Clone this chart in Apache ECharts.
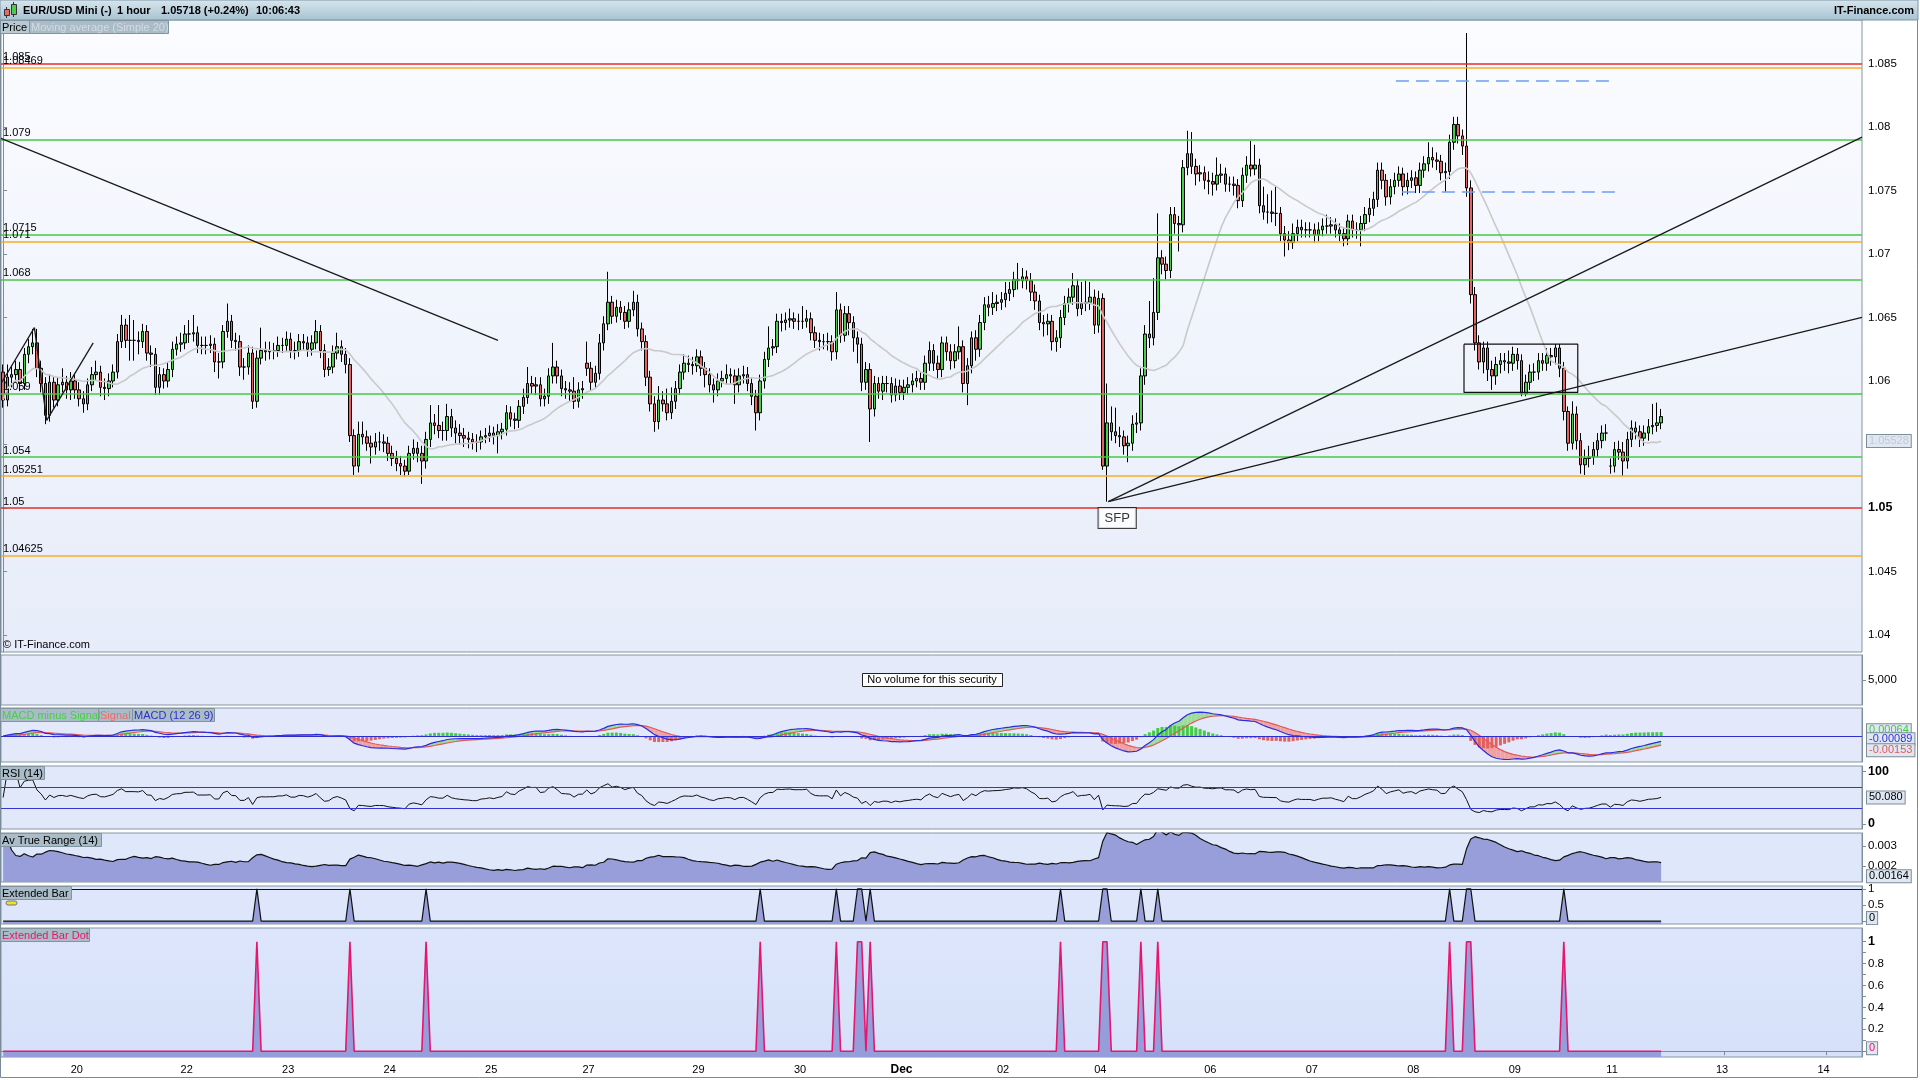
<!DOCTYPE html>
<html>
<head>
<meta charset="utf-8">
<title>EUR/USD Mini 1 hour</title>
<script src="https://cdn.jsdelivr.net/npm/echarts@6.0.0/dist/echarts.min.js"></script>
<style>
html,body{margin:0;padding:0;background:#ffffff;overflow:hidden;}
#chart{width:1920px;height:1080px;}
</style>
</head>
<body>
<div id="chart"></div>
<script>
// ---------------- values ----------------
const closes = [
1.0585,1.0603,1.0605,1.0609,1.0598,1.0621,1.0627,1.0630,1.0610,1.0598,
1.0573,1.0599,1.0585,1.0597,1.0599,1.0593,1.0600,1.0593,1.0586,1.0582,
1.0597,1.0605,1.0607,1.0595,1.0594,1.0600,1.0607,1.0631,1.0644,1.0632,
1.0632,1.0632,1.0631,1.0639,1.0622,1.0621,1.0595,1.0605,1.0600,1.0609,
1.0625,1.0629,1.0630,1.0637,1.0637,1.0638,1.0628,1.0628,1.0628,1.0629,
1.0615,1.0615,1.0639,1.0647,1.0632,1.0631,1.0611,1.0611,1.0622,1.0584,
1.0618,1.0624,1.0623,1.0624,1.0624,1.0628,1.0628,1.0633,1.0624,1.0624,
1.0631,1.0630,1.0625,1.0630,1.0639,1.0624,1.0609,1.0611,1.0622,1.0627,
1.0621,1.0613,1.0557,1.0533,1.0558,1.0556,1.0551,1.0548,1.0552,1.0552,
1.0551,1.0543,1.0539,1.0535,1.0533,1.0529,1.0543,1.0547,1.0543,1.0537,
1.0554,1.0567,1.0565,1.0561,1.0561,1.0572,1.0563,1.0559,1.0557,1.0555,
1.0554,1.0552,1.0552,1.0556,1.0557,1.0559,1.0557,1.0560,1.0562,1.0575,
1.0570,1.0569,1.0580,1.0587,1.0598,1.0596,1.0597,1.0586,1.0588,1.0604,
1.0611,1.0604,1.0594,1.0593,1.0592,1.0584,1.0593,1.0594,1.0610,1.0599,
1.0606,1.0630,1.0645,1.0662,1.0651,1.0658,1.0654,1.0647,1.0656,1.0662,
1.0641,1.0631,1.0603,1.0582,1.0568,1.0585,1.0582,1.0575,1.0584,1.0594,
1.0607,1.0614,1.0613,1.0612,1.0619,1.0610,1.0605,1.0597,1.0593,1.0600,
1.0602,1.0605,1.0604,1.0597,1.0604,1.0605,1.0598,1.0588,1.0575,1.0600,
1.0617,1.0626,1.0627,1.0647,1.0646,1.0648,1.0649,1.0647,1.0647,1.0647,
1.0649,1.0638,1.0632,1.0631,1.0631,1.0631,1.0623,1.0656,1.0636,1.0653,
1.0646,1.0634,1.0629,1.0599,1.0609,1.0578,1.0598,1.0592,1.0598,1.0598,
1.0589,1.0596,1.0591,1.0595,1.0597,1.0600,1.0602,1.0599,1.0614,1.0624,
1.0614,1.0609,1.0630,1.0623,1.0616,1.0623,1.0627,1.0598,1.0612,1.0634,
1.0625,1.0646,1.0660,1.0658,1.0661,1.0662,1.0664,1.0669,1.0672,1.0680,
1.0679,1.0682,1.0679,1.0670,1.0663,1.0646,1.0645,1.0647,1.0631,1.0634,
1.0650,1.0661,1.0666,1.0675,1.0657,1.0661,1.0662,1.0666,1.0644,1.0665,
1.0533,1.0567,1.0560,1.0557,1.0556,1.0549,1.0551,1.0566,1.0567,1.0604,
1.0637,1.0634,1.0654,1.0697,1.0692,1.0687,1.0731,1.0724,1.0723,1.0768,
1.0779,1.0769,1.0763,1.0764,1.0758,1.0757,1.0755,1.0762,1.0763,1.0755,
1.0755,1.0754,1.0742,1.0762,1.0770,1.0767,1.0770,1.0738,1.0733,1.0733,
1.0732,1.0732,1.0716,1.0711,1.0709,1.0716,1.0721,1.0719,1.0719,1.0719,
1.0715,1.0719,1.0722,1.0722,1.0723,1.0719,1.0716,1.0712,1.0726,1.0719,
1.0719,1.0724,1.0731,1.0736,1.0743,1.0766,1.0758,1.0745,1.0753,1.0758,
1.0763,1.0753,1.0758,1.0760,1.0754,1.0766,1.0771,1.0776,1.0774,1.0773,
1.0764,1.0765,1.0788,1.0802,1.0793,1.0785,1.0752,1.0668,1.0630,1.0615,
1.0626,1.0609,1.0604,1.0613,1.0616,1.0615,1.0614,1.0621,1.0616,1.0590,
1.0599,1.0607,1.0607,1.0616,1.0614,1.0620,1.0619,1.0626,1.0610,1.0576,
1.0551,1.0574,1.0553,1.0534,1.0539,1.0540,1.0546,1.0553,1.0559,1.0559,
1.0533,1.0546,1.0544,1.0537,1.0554,1.0563,1.0560,1.0555,1.0559,1.0564,
1.0565,1.0567,1.0572
];
const highs = [
1.0613,1.0613,1.0612,1.0616,1.0615,1.0626,1.0633,1.0641,1.0641,1.0616,
1.0603,1.0605,1.0604,1.0603,1.0610,1.0604,1.0607,1.0605,1.0599,1.0592,
1.0602,1.0611,1.0616,1.0612,1.0602,1.0606,1.0613,1.0637,1.0652,1.0649,
1.0652,1.0648,1.0639,1.0645,1.0644,1.0628,1.0626,1.0611,1.0610,1.0615,
1.0631,1.0635,1.0638,1.0644,1.0648,1.0652,1.0643,1.0635,1.0635,1.0636,
1.0634,1.0622,1.0644,1.0661,1.0652,1.0638,1.0636,1.0618,1.0628,1.0627,
1.0624,1.0642,1.0631,1.0631,1.0630,1.0635,1.0634,1.0639,1.0638,1.0631,
1.0637,1.0637,1.0635,1.0636,1.0648,1.0644,1.0629,1.0618,1.0628,1.0638,
1.0632,1.0626,1.0618,1.0562,1.0568,1.0568,1.0561,1.0557,1.0559,1.0560,
1.0558,1.0556,1.0549,1.0545,1.0541,1.0538,1.0549,1.0554,1.0552,1.0549,
1.0560,1.0581,1.0574,1.0581,1.0568,1.0582,1.0578,1.0569,1.0566,1.0563,
1.0560,1.0559,1.0558,1.0561,1.0563,1.0565,1.0564,1.0566,1.0567,1.0581,
1.0580,1.0575,1.0585,1.0594,1.0611,1.0604,1.0603,1.0603,1.0594,1.0610,
1.0630,1.0616,1.0609,1.0600,1.0599,1.0603,1.0599,1.0600,1.0631,1.0615,
1.0612,1.0637,1.0651,1.0686,1.0667,1.0664,1.0663,1.0659,1.0662,1.0671,
1.0668,1.0646,1.0636,1.0608,1.0588,1.0596,1.0592,1.0594,1.0595,1.0600,
1.0613,1.0621,1.0620,1.0619,1.0625,1.0624,1.0615,1.0610,1.0602,1.0606,
1.0608,1.0613,1.0610,1.0609,1.0610,1.0612,1.0611,1.0603,1.0593,1.0605,
1.0623,1.0643,1.0633,1.0653,1.0653,1.0654,1.0657,1.0654,1.0653,1.0659,
1.0656,1.0654,1.0643,1.0638,1.0637,1.0638,1.0636,1.0670,1.0661,1.0659,
1.0659,1.0651,1.0639,1.0634,1.0615,1.0614,1.0604,1.0603,1.0604,1.0604,
1.0603,1.0602,1.0601,1.0601,1.0603,1.0606,1.0608,1.0607,1.0620,1.0631,
1.0629,1.0620,1.0635,1.0635,1.0629,1.0629,1.0643,1.0632,1.0618,1.0639,
1.0640,1.0652,1.0666,1.0667,1.0670,1.0668,1.0670,1.0678,1.0678,1.0686,
1.0693,1.0689,1.0687,1.0685,1.0676,1.0668,1.0652,1.0653,1.0652,1.0640,
1.0656,1.0667,1.0673,1.0685,1.0680,1.0678,1.0679,1.0678,1.0672,1.0671,
1.0669,1.0598,1.0580,1.0579,1.0564,1.0561,1.0557,1.0573,1.0575,1.0610,
1.0644,1.0663,1.0681,1.0732,1.0703,1.0698,1.0737,1.0737,1.0730,1.0774,
1.0797,1.0796,1.0775,1.0770,1.0769,1.0765,1.0764,1.0776,1.0771,1.0768,
1.0761,1.0761,1.0759,1.0768,1.0777,1.0789,1.0786,1.0775,1.0753,1.0747,
1.0750,1.0753,1.0737,1.0722,1.0718,1.0724,1.0727,1.0727,1.0725,1.0725,
1.0724,1.0725,1.0728,1.0731,1.0729,1.0728,1.0724,1.0721,1.0731,1.0731,
1.0725,1.0730,1.0737,1.0744,1.0749,1.0772,1.0772,1.0763,1.0759,1.0764,
1.0769,1.0768,1.0764,1.0766,1.0765,1.0772,1.0777,1.0788,1.0784,1.0780,
1.0778,1.0772,1.0794,1.0808,1.0808,1.0798,1.0874,1.0758,1.0674,1.0636,
1.0631,1.0631,1.0616,1.0619,1.0622,1.0622,1.0624,1.0627,1.0626,1.0621,
1.0605,1.0613,1.0614,1.0622,1.0622,1.0626,1.0626,1.0629,1.0629,1.0615,
1.0580,1.0584,1.0580,1.0559,1.0546,1.0549,1.0552,1.0559,1.0565,1.0566,
1.0539,1.0552,1.0553,1.0552,1.0560,1.0569,1.0568,1.0565,1.0565,1.0570,
1.0582,1.0583,1.0578
];
const lows = [
1.0579,1.0580,1.0595,1.0599,1.0592,1.0593,1.0614,1.0621,1.0603,1.0591,
1.0566,1.0568,1.0579,1.0580,1.0591,1.0586,1.0585,1.0586,1.0580,1.0575,
1.0577,1.0592,1.0600,1.0588,1.0585,1.0588,1.0595,1.0602,1.0626,1.0626,
1.0616,1.0616,1.0621,1.0626,1.0616,1.0611,1.0589,1.0589,1.0594,1.0595,
1.0603,1.0620,1.0623,1.0625,1.0630,1.0631,1.0622,1.0621,1.0621,1.0622,
1.0607,1.0602,1.0610,1.0634,1.0626,1.0624,1.0604,1.0601,1.0605,1.0578,
1.0579,1.0613,1.0616,1.0617,1.0617,1.0619,1.0622,1.0623,1.0618,1.0617,
1.0619,1.0624,1.0619,1.0620,1.0625,1.0618,1.0603,1.0604,1.0606,1.0617,
1.0615,1.0606,1.0552,1.0526,1.0528,1.0550,1.0545,1.0535,1.0542,1.0545,
1.0544,1.0537,1.0533,1.0529,1.0526,1.0525,1.0526,1.0538,1.0536,1.0519,
1.0531,1.0548,1.0558,1.0555,1.0553,1.0553,1.0556,1.0551,1.0550,1.0548,
1.0547,1.0546,1.0544,1.0546,1.0551,1.0552,1.0550,1.0543,1.0554,1.0557,
1.0564,1.0562,1.0563,1.0574,1.0582,1.0590,1.0589,1.0580,1.0580,1.0582,
1.0598,1.0598,1.0588,1.0586,1.0584,1.0578,1.0579,1.0586,1.0604,1.0593,
1.0594,1.0601,1.0624,1.0640,1.0645,1.0646,1.0648,1.0641,1.0642,1.0651,
1.0635,1.0624,1.0596,1.0576,1.0560,1.0562,1.0576,1.0569,1.0570,1.0578,
1.0589,1.0601,1.0607,1.0605,1.0607,1.0604,1.0595,1.0591,1.0583,1.0588,
1.0595,1.0597,1.0597,1.0582,1.0591,1.0598,1.0592,1.0581,1.0561,1.0569,
1.0594,1.0611,1.0620,1.0622,1.0639,1.0640,1.0642,1.0641,1.0640,1.0641,
1.0642,1.0632,1.0626,1.0624,1.0625,1.0624,1.0616,1.0617,1.0630,1.0631,
1.0636,1.0623,1.0614,1.0592,1.0593,1.0552,1.0572,1.0586,1.0585,1.0591,
1.0583,1.0584,1.0585,1.0585,1.0589,1.0591,1.0595,1.0593,1.0593,1.0608,
1.0608,1.0602,1.0603,1.0616,1.0609,1.0610,1.0617,1.0591,1.0581,1.0606,
1.0616,1.0619,1.0640,1.0651,1.0652,1.0655,1.0656,1.0658,1.0663,1.0666,
1.0672,1.0673,1.0672,1.0663,1.0656,1.0640,1.0635,1.0636,1.0624,1.0623,
1.0626,1.0644,1.0654,1.0660,1.0651,1.0652,1.0655,1.0656,1.0637,1.0638,
1.0530,1.0505,1.0553,1.0551,1.0548,1.0542,1.0536,1.0545,1.0559,1.0561,
1.0597,1.0626,1.0628,1.0648,1.0684,1.0680,1.0681,1.0716,1.0702,1.0717,
1.0762,1.0763,1.0754,1.0757,1.0751,1.0747,1.0746,1.0750,1.0756,1.0749,
1.0749,1.0746,1.0736,1.0737,1.0756,1.0761,1.0762,1.0732,1.0727,1.0724,
1.0725,1.0722,1.0710,1.0698,1.0703,1.0704,1.0710,1.0713,1.0713,1.0713,
1.0709,1.0710,1.0714,1.0716,1.0716,1.0713,1.0710,1.0706,1.0707,1.0713,
1.0712,1.0706,1.0718,1.0725,1.0730,1.0737,1.0751,1.0738,1.0739,1.0747,
1.0753,1.0746,1.0747,1.0752,1.0748,1.0748,1.0760,1.0765,1.0768,1.0766,
1.0758,1.0749,1.0759,1.0782,1.0787,1.0778,1.0745,1.0661,1.0624,1.0609,
1.0606,1.0600,1.0593,1.0597,1.0606,1.0608,1.0606,1.0608,1.0609,1.0588,
1.0588,1.0593,1.0600,1.0601,1.0608,1.0608,1.0612,1.0613,1.0603,1.0569,
1.0545,1.0546,1.0546,1.0527,1.0526,1.0532,1.0534,1.0540,1.0547,1.0553,
1.0527,1.0528,1.0538,1.0525,1.0531,1.0548,1.0554,1.0548,1.0549,1.0553,
1.0558,1.0560,1.0562
];
// opens follow the previous close except where a session opened with a gap
const gapOpenBars = [0, 138, 380];
const gapOpenPrices = [1.0607, 1.0614, 1.0533];

// time axis (one slot per hourly bar, including the empty future area)
const slotCount = 440;
const dayLabels = ['20','22','23','24','25','27','29','30','Dec','02','04','06','07','08','09','11','13','14'];
const dayLabelBars = [18,44,68,92,116,139,165,189,213,237,260,286,310,334,358,381,407,431];

// horizontal price levels
const redLevels = [1.085, 1.05];
const orangeLevels = [1.08469, 1.071, 1.05251, 1.04625];
const greenLevels = [1.079, 1.0715, 1.068, 1.059, 1.054];
const priceTickValues = [1.04, 1.045, 1.05, 1.06, 1.065, 1.07, 1.075, 1.08, 1.085];

// drawn annotations (bar position, price)
const trendLineBars = [[-0.5,117],[-0.3,7.4],[7.4,10.3],[10.3,21.3],[261.3,439.5],[261.3,439.5]];
const trendLinePrices = [[1.0791,1.0632],[1.0599,1.0642],[1.0642,1.0569],[1.0569,1.0630],[1.0505,1.0792],[1.0505,1.0650]];
const boxBars = [345.4, 372.3];
const boxPrices = [1.0629, 1.0591];
const dashBars = [[329.3,380.8],[330.7,381.3]];
const dashPrices = [1.08362, 1.07488];
const sfpBar = 263.4;
const sfpPrice = 1.04921;

// "Extended Bar" signal bars
const extendedBarIdx = [60,82,100,179,197,202,203,205,250,260,261,269,273,342,346,347,369];

// last-value tags shown on the right axis
const maLastTag = 1.05528;
const macdTags = [0.00064, -0.00089, -0.00153];
const rsiTag = 50.080;
const atrTag = 0.00164;

// ---------------- build ----------------
const N = closes.length;
const opens = closes.map((c, i) => {
  const g = gapOpenBars.indexOf(i);
  return g >= 0 ? gapOpenPrices[g] : closes[i - 1];
});
const ohlc = closes.map((c, i) => [opens[i], c, lows[i], highs[i]]);
const slotLabel = Array.from({length: slotCount}, (_, i) => {
  const k = dayLabelBars.indexOf(i);
  return k >= 0 ? dayLabels[k] : '';
});
const cats = Array.from({length: slotCount}, (_, i) => String(i));

function smaCalc(arr, n) {
  const out = []; let s = 0;
  for (let i = 0; i < arr.length; i++) {
    s += arr[i]; if (i >= n) s -= arr[i - n];
    out.push(s / Math.min(i + 1, n));
  }
  return out;
}
function emaCalc(arr, n) {
  const k = 2 / (n + 1); const out = []; let e = arr[0];
  for (let i = 0; i < arr.length; i++) { e = i === 0 ? arr[0] : arr[i] * k + e * (1 - k); out.push(e); }
  return out;
}
const ma20 = smaCalc(closes, 20);
const ema12 = emaCalc(closes, 12), ema26 = emaCalc(closes, 26);
const macd = ema12.map((v, i) => v - ema26[i]);
const signal = emaCalc(macd, 9);
const hist = macd.map((v, i) => v - signal[i]);

const rsi = [];
(function () {
  let g = 0, l = 0; const n = 14;
  rsi.push(50);
  for (let i = 1; i < N; i++) {
    const d = closes[i] - closes[i - 1];
    const up = Math.max(d, 0), dn = Math.max(-d, 0);
    if (i <= n) { g = (g * (i - 1) + up) / i; l = (l * (i - 1) + dn) / i; }
    else { g = (g * (n - 1) + up) / n; l = (l * (n - 1) + dn) / n; }
    rsi.push(l === 0 ? 100 : 100 - 100 / (1 + g / l));
  }
})();
const atr = [];
(function () {
  const n = 14; let a = 0;
  for (let i = 0; i < N; i++) {
    const tr = i === 0 ? highs[i] - lows[i] :
      Math.max(highs[i] - lows[i], Math.abs(highs[i] - closes[i - 1]), Math.abs(lows[i] - closes[i - 1]));
    if (i < n) a = (a * i + tr) / (i + 1); else a = (a * (n - 1) + tr) / n;
    atr.push(a);
  }
})();
const extBar = closes.map((c, i) => extendedBarIdx.indexOf(i) >= 0 ? 1 : 0);

// ---------------- layout / style ----------------
const FF = '"Liberation Sans", Arial, sans-serif';
const AXC = '#7d8d99';
const grids = [
  {top: 20, height: 632, bg: {type:'linear',x:0,y:0,x2:0,y2:1,colorStops:[{offset:0,color:'#fbfcff'},{offset:1,color:'#e6ecf9'}]}},
  {top: 655, height: 50, bg: '#e4eafa'},
  {top: 708, height: 54, bg: '#e3e9fa'},
  {top: 766, height: 63, bg: '#e1e8fa'},
  {top: 833, height: 49, bg: '#dfe7fa'},
  {top: 886, height: 38, bg: '#dde6fa'},
  {top: 928, height: 129, bg: {type:'linear',x:0,y:0,x2:0,y2:1,colorStops:[{offset:0,color:'#dce5fb'},{offset:1,color:'#d6e1f9'}]}}
].map(g => ({left: 1, width: 1861, top: g.top, height: g.height, show: true,
  backgroundColor: g.bg, borderColor: '#8696a3', borderWidth: 1}));

const tickInterval = (idx) => slotLabel[idx] !== '';
const xAxes = grids.map((g, gi) => ({
  type: 'category', gridIndex: gi, data: cats, boundaryGap: true,
  axisLine: {show: gi === 6, lineStyle: {color: AXC}},
  axisTick: {show: gi === 6, interval: tickInterval, alignWithLabel: true, length: 4, lineStyle: {color: AXC}},
  axisLabel: {show: gi === 6, interval: tickInterval, margin: 7, fontSize: 11, fontFamily: FF, color: '#000',
    padding: [0, 5, 0, 0],
    formatter: (v, idx) => slotLabel[idx] === 'Dec' ? '{b|Dec}' : slotLabel[idx],
    rich: {b: {fontWeight: 'bold', fontSize: 12, fontFamily: FF, color: '#000'}}},
  splitLine: {show: false}
}));
xAxes.push({type: 'value', gridIndex: 0, min: -0.5, max: slotCount - 0.5, show: false});

function yAx(gi, min, max, labelVals, tickVals, fmt) {
  return {
    type: 'value', gridIndex: gi, min, max, position: 'right',
    splitLine: {show: false},
    axisLine: {show: true, lineStyle: {color: AXC}},
    axisTick: tickVals.length ? {show: true, length: 4, lineStyle: {color: AXC}, customValues: tickVals} : {show: false},
    axisLabel: labelVals.length ? {show: true, customValues: labelVals, formatter: fmt, margin: 6,
      fontSize: 11.5, fontFamily: FF, color: '#000',
      rich: {b: {fontWeight: 'bold', fontSize: 12.5, fontFamily: FF, color: '#000'}}} : {show: false}
  };
}
const yAxes = [
  yAx(0, 1.03866, 1.088425, priceTickValues, priceTickValues.concat([1.055]),
      v => Math.abs(v - 1.05) < 1e-9 ? '{b|1.05}' : String(+v.toFixed(3))),
  yAx(1, 0, 10000, [5000], [5000], () => '5,000'),
  yAx(2, -0.004333, 0.004667, [], [], null),
  yAx(3, -10, 110, [0, 100], [0, 100], v => '{b|' + v + '}'),
  yAx(4, 0.0012, 0.00365, [0.002, 0.003], [0.002, 0.003], v => String(+v.toFixed(3))),
  yAx(5, -0.09, 1.09, [0.5, 1], [0, 0.5, 1], v => String(v)),
  yAx(6, -0.053, 1.125, [0.2, 0.4, 0.6, 0.8, 1], [0, 0.1, 0.2, 0.3, 0.4, 0.5, 0.6, 0.7, 0.8, 0.9, 1],
      v => Math.abs(v - 1) < 1e-9 ? '{b|1}' : String(+v.toFixed(1)))
];

const CLEAR = 'rgba(0,0,0,0)';
function tag(value, text, color, offsetY) {
  return {yAxis: value, lineStyle: {color: CLEAR, width: 0},
    label: {show: true, position: 'end', formatter: text, color: color, fontSize: 11, fontFamily: FF,
      backgroundColor: '#dfe7f2', borderColor: '#7d8d99', borderWidth: 1, padding: [1, 2, 0, 2],
      distance: 5, offset: [0, offsetY || 0]}};
}
function level(v, color) {
  return {yAxis: v, lineStyle: {color: color, width: 1.5, type: 'solid', opacity: 1},
    label: {show: true, position: 'insideStartTop', formatter: String(v), color: '#000', fontSize: 11,
      fontFamily: FF, distance: [2, 1]}};
}
function mline(data) {
  return {silent: true, symbol: ['none', 'none'], animation: false, precision: 10, data: data};
}
const levelData = []
  .concat(orangeLevels.map(v => level(v, '#f7ae22')))
  .concat(greenLevels.map(v => level(v, '#45c845')))
  .concat(redLevels.map(v => level(v, '#e2302a')));

const series = [];
series.push({
  type: 'candlestick', xAxisIndex: 0, yAxisIndex: 0, data: ohlc, barWidth: 3,
  itemStyle: {color: '#46cf44', color0: '#e5625e', borderColor: '#000', borderColor0: '#000', borderWidth: 1},
  markLine: mline(levelData),
  z: 3
});
series.push({
  type: 'line', xAxisIndex: 0, yAxisIndex: 0, data: ma20, symbol: 'none',
  lineStyle: {color: '#c9c9c9', width: 1.6}, z: 4,
  markLine: mline([tag(maLastTag, '1.05528', '#c3cad2')])
});
trendLineBars.forEach((b, k) => {
  series.push({type: 'line', xAxisIndex: 7, yAxisIndex: 0, symbol: 'none', z: 5,
    data: [[b[0], trendLinePrices[k][0]], [b[1], trendLinePrices[k][1]]],
    lineStyle: {color: '#1a1a1a', width: 1.3}});
});
series.push({type: 'line', xAxisIndex: 7, yAxisIndex: 0, symbol: 'none', z: 5,
  data: [[boxBars[0], boxPrices[0]], [boxBars[1], boxPrices[0]], [boxBars[1], boxPrices[1]],
         [boxBars[0], boxPrices[1]], [boxBars[0], boxPrices[0]]],
  lineStyle: {color: '#111', width: 1.2}});
dashBars.forEach((b, k) => {
  series.push({type: 'line', xAxisIndex: 7, yAxisIndex: 0, symbol: 'none', z: 5,
    data: [[b[0], dashPrices[k]], [b[1], dashPrices[k]]],
    lineStyle: {color: '#6e9ff0', width: 1.3, type: [13, 7]}});
});
series.push({type: 'scatter', xAxisIndex: 7, yAxisIndex: 0, data: [[sfpBar, sfpPrice]], symbolSize: 2,
  itemStyle: {color: CLEAR}, z: 6,
  label: {show: true, position: 'inside', formatter: 'SFP', color: '#000', fontSize: 13, fontFamily: FF,
    backgroundColor: '#fff', borderColor: '#111', borderWidth: 1, padding: [4, 6, 3, 6]}});

// volume panel (empty)
series.push({type: 'line', xAxisIndex: 1, yAxisIndex: 1, data: [], symbol: 'none'});

// MACD
series.push({
  type: 'custom', xAxisIndex: 2, yAxisIndex: 2,
  data: macd.map((m, i) => [i, m, signal[i]]), encode: {x: 0, y: [1, 2]},
  renderItem: function (params, api) {
    const i = api.value(0);
    if (i >= N - 1) return null;
    const a = api.coord([i, macd[i]]), b = api.coord([i + 1, macd[i + 1]]);
    const c = api.coord([i + 1, signal[i + 1]]), d = api.coord([i, signal[i]]);
    const up = (macd[i] + macd[i + 1]) >= (signal[i] + signal[i + 1]);
    return {type: 'polygon', shape: {points: [a, b, c, d]}, style: {fill: up ? '#9edc9c' : '#f0a2a2'}};
  }, z: 2
});
series.push({type: 'bar', xAxisIndex: 2, yAxisIndex: 2, data: hist, barWidth: 3, z: 3,
  itemStyle: {color: p => p.value >= 0 ? '#42cc42' : '#e2605e'}});
series.push({type: 'line', xAxisIndex: 2, yAxisIndex: 2, data: signal, symbol: 'none', z: 4,
  lineStyle: {color: '#e05a5a', width: 1.2},
  markLine: mline([{yAxis: 0, lineStyle: {color: '#2f2fd0', width: 1.2, type: 'solid'}, label: {show: false}},
           tag(macdTags[0], '0.00064', '#3fcf3f', -2),
           tag(macdTags[1], '-0.00089', '#3434d4', -2),
           tag(macdTags[2], '-0.00153', '#e05a5a', 5)])});
series.push({type: 'line', xAxisIndex: 2, yAxisIndex: 2, data: macd, symbol: 'none', z: 5,
  lineStyle: {color: '#2b2be0', width: 1.2}});

// RSI
series.push({type: 'line', xAxisIndex: 3, yAxisIndex: 3, data: rsi, symbol: 'none',
  lineStyle: {color: '#111', width: 1},
  markLine: mline([{yAxis: 70, lineStyle: {color: '#3535d5', width: 1.2, type: 'solid'}, label: {show: false}},
           {yAxis: 30, lineStyle: {color: '#3535d5', width: 1.2, type: 'solid'}, label: {show: false}},
           tag(rsiTag, '50.080', '#000')])});

// ATR
series.push({type: 'line', xAxisIndex: 4, yAxisIndex: 4, data: atr, symbol: 'none',
  lineStyle: {color: '#111', width: 1.2}, areaStyle: {color: '#979ed9', opacity: 1, origin: 'start'},
  markLine: mline([tag(atrTag, '0.00164', '#000', 3)])});

// Extended Bar
series.push({type: 'line', xAxisIndex: 5, yAxisIndex: 5, data: extBar, symbol: 'none',
  lineStyle: {color: '#111', width: 1.2}, areaStyle: {color: '#979ed9', opacity: 1, origin: 'start'},
  markLine: mline([{yAxis: 1, lineStyle: {color: '#111', width: 1.2, type: 'solid'}, label: {show: false}},
           tag(0, '0', '#000', -3)])});

// Extended Bar Dot
series.push({type: 'line', xAxisIndex: 6, yAxisIndex: 6, data: extBar, symbol: 'none',
  lineStyle: {color: '#e8156e', width: 1.6}, areaStyle: {color: '#959dda', opacity: 1, origin: 'start'},
  markLine: mline([tag(0, '0', '#e8156e', -3)])});

// ---------------- decorations ----------------
function txt(x, y, text, opts) {
  return Object.assign({type: 'text', x: x, y: y, z: 101, silent: true,
    style: Object.assign({text: text, fill: '#000', fontSize: 11, fontFamily: FF, verticalAlign: 'middle'}, opts || {})});
}
function box(x, y, w, h, fill, stroke) {
  return {type: 'rect', z: 100, silent: true, shape: {x: x + 0.5, y: y + 0.5, width: w, height: h},
    style: {fill: fill, stroke: stroke || '#8394a1', lineWidth: 1}};
}
function tabs(y, items) {
  const out = [];
  items.forEach(it => { out.push(box(it.x, y, it.w, 13, it.bg || '#a9bcc8')); out.push(txt(it.x + 2, y + 7.5, it.t, {fill: it.c || '#000'})); });
  return out;
}
const graphic = [].concat(
  [{type: 'rect', z: 99, silent: true, shape: {x: 0, y: 0, width: 1918, height: 20},
    style: {fill: new echarts.graphic.LinearGradient(0, 0, 0, 1, [{offset: 0, color: '#d7e6ee'}, {offset: 1, color: '#a7c2d1'}]),
      stroke: '#7f95a3', lineWidth: 1}},
   {type: 'line', z: 101, silent: true, shape: {x1: 6.5, y1: 7, x2: 6.5, y2: 18}, style: {stroke: '#333'}},
   {type: 'rect', z: 102, silent: true, shape: {x: 4.5, y: 9.5, width: 5, height: 6}, style: {fill: '#e86b6b', stroke: '#333'}},
   {type: 'line', z: 101, silent: true, shape: {x1: 13.5, y1: 2, x2: 13.5, y2: 17}, style: {stroke: '#333'}},
   {type: 'rect', z: 102, silent: true, shape: {x: 11.5, y: 4.5, width: 5, height: 10}, style: {fill: '#4ccc48', stroke: '#333'}},
   txt(23, 10.5, 'EUR/USD Mini (-)', {fontWeight: 'bold'}),
   txt(117, 10.5, '1 hour', {fontWeight: 'bold'}),
   txt(161, 10.5, '1.05718 (+0.24%)', {fontWeight: 'bold'}),
   txt(256, 10.5, '10:06:43', {fontWeight: 'bold'}),
   txt(1914, 10.5, 'IT-Finance.com', {fontWeight: 'bold', align: 'right'})],
  tabs(20, [{x: 0, w: 29, t: 'Price', bg: '#b9c9d4'}, {x: 29, w: 139, t: 'Moving average (Simple 20)', c: '#d3dbe3'}]),
  tabs(708, [{x: 0, w: 98, t: 'MACD minus Signal', c: '#46d046'}, {x: 98, w: 34, t: 'Signal', c: '#f06a6a'}, {x: 132, w: 82, t: 'MACD (12 26 9)', c: '#2f2fc8'}]),
  tabs(766, [{x: 0, w: 44, t: 'RSI (14)'}]),
  tabs(833, [{x: 0, w: 101, t: 'Av True Range (14)'}]),
  tabs(886, [{x: 0, w: 71, t: 'Extended Bar'}]),
  tabs(928, [{x: 0, w: 89, t: 'Extended Bar Dot', c: '#e8156e'}]),
  [{type: 'rect', z: 102, silent: true, shape: {x: 6, y: 901, width: 11, height: 4, r: 2}, style: {fill: '#e9e12a', stroke: '#777'}},
   box(862, 673, 140, 13, '#ffffff', '#222'),
   txt(932, 680, 'No volume for this security', {align: 'center'}),
   txt(3, 645, '\u00a9 IT-Finance.com'),
   {type: 'rect', z: 98, silent: true, shape: {x: 0.5, y: 0.5, width: 1917, height: 1077},
    style: {fill: 'none', stroke: '#7a8a96', lineWidth: 1}}]
);

const chart = echarts.init(document.getElementById('chart'), null, {renderer: 'canvas', width: 1920, height: 1080});
chart.setOption({
  animation: false,
  backgroundColor: '#ffffff',
  textStyle: {fontFamily: FF},
  grid: grids,
  xAxis: xAxes,
  yAxis: yAxes,
  series: series,
  graphic: graphic
});
</script>
</body>
</html>
